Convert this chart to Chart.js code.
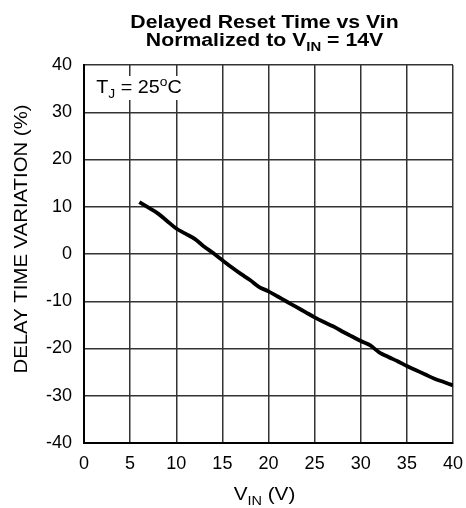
<!DOCTYPE html>
<html>
<head>
<meta charset="utf-8">
<script src="https://cdn.jsdelivr.net/npm/chart.js@4/dist/chart.umd.min.js"></script>
<style>
  html, body { margin: 0; padding: 0; background: #fff; }
  #wrap { width: 466px; height: 508px; position: relative; }
</style>
</head>
<body>
<div id="wrap"><canvas id="chart"></canvas></div>
<script>
// V_IN (V)
const vin = [6, 7, 8, 9, 10, 11, 12, 13, 14, 15, 16, 17, 18, 19, 20, 21, 22, 23, 24, 25, 26, 27, 28, 29, 30, 31, 32, 33, 34, 35, 36, 37, 38, 39, 40];
// delay time variation (%)
const variation = [11, 9.8, 8.6, 7, 5.4, 4.3, 3.2, 1.6, 0.2, -1.3, -2.8, -4.2, -5.5, -7, -7.9, -9, -10.1, -11.2, -12.3, -13.4, -14.4, -15.3, -16.4, -17.4, -18.4, -19.3, -20.8, -21.8, -22.7, -23.7, -24.6, -25.5, -26.4, -27.1, -27.8];

const xTicks = [0, 5, 10, 15, 20, 25, 30, 35, 40];
const yTicks = [-40, -30, -20, -10, 0, 10, 20, 30, 40];

const FONT = 'Liberation Sans, Arial, sans-serif';

// draw text pieces (with sub/superscripts), centered on cx, stretched horizontally by sx
function richText(ctx, parts, cx, y, size, bold, sx) {
  const w = bold ? 'bold ' : '';
  let total = 0;
  parts.forEach(p => {
    ctx.font = w + (p.s ? size * 0.7 : size) + 'px ' + FONT;
    total += ctx.measureText(p.t).width;
  });
  ctx.save();
  ctx.translate(cx, y);
  ctx.scale(sx, 1);
  let x = -total / 2;
  parts.forEach(p => {
    ctx.font = w + (p.s ? size * 0.7 : size) + 'px ' + FONT;
    let dy = 0;
    if (p.s === 'sub') dy = size * 0.25;
    if (p.s === 'sup') dy = -size * 0.4;
    ctx.fillText(p.t, x, dy);
    x += ctx.measureText(p.t).width;
  });
  ctx.restore();
}

const labelsPlugin = {
  id: 'labels',
  afterDraw(chart) {
    const ctx = chart.ctx;
    const a = chart.chartArea;
    ctx.save();
    ctx.fillStyle = '#000';
    ctx.textAlign = 'left';
    ctx.textBaseline = 'alphabetic';
    const cx = (a.left + a.right) / 2 - 4;
    richText(ctx, [{t: 'Delayed Reset Time vs Vin'}], cx, 28, 18, true, 1.18);
    richText(ctx, [{t: 'Normalized to V'}, {t: 'IN', s: 'sub'}, {t: ' = 14V'}], cx, 46, 18, true, 1.18);
    richText(ctx, [{t: 'V'}, {t: 'IN', s: 'sub'}, {t: ' (V)'}], cx, 500, 18, false, 1.15);

    // T_J annotation on a white box
    ctx.fillStyle = '#fff';
    ctx.fillRect(a.left + 6, 76, 98, 24);
    ctx.fillStyle = '#000';
    richText(ctx, [{t: 'T'}, {t: 'J', s: 'sub'}, {t: ' = 25'}, {t: 'o', s: 'sup'}, {t: 'C'}], a.left + 55, 93, 18, false, 1.1);

    // y axis title
    ctx.translate(27, 239);
    ctx.rotate(-Math.PI / 2);
    richText(ctx, [{t: 'DELAY TIME VARIATION (%)'}], 0, 0, 18, false, 1.13);
    ctx.restore();
  }
};

new Chart(document.getElementById('chart'), {
  type: 'line',
  data: {
    datasets: [{
      data: vin.map((v, i) => ({x: v, y: variation[i]})),
      borderColor: '#000',
      borderWidth: 3.8,
      pointRadius: 0,
      tension: 0.3,
      fill: false
    }]
  },
  options: {
    responsive: true,
    maintainAspectRatio: false,
    animation: false,
    devicePixelRatio: 1,
    layout: { padding: { top: 65, right: 13, left: 0, bottom: 0 } },
    plugins: { legend: { display: false }, tooltip: { enabled: false } },
    scales: {
      x: {
        type: 'linear',
        min: 0, max: 40,
        afterBuildTicks: s => { s.ticks = xTicks.map(v => ({value: v})); },
        afterFit: s => { s.height = 65; s.paddingLeft = 0; s.paddingRight = 0; },
        grid: { color: '#333', lineWidth: 1.5, drawTicks: false },
        border: { color: '#000', width: 2 },
        ticks: { color: '#000', font: { family: FONT, size: 18 }, padding: 10, maxRotation: 0 }
      },
      y: {
        min: -40, max: 40,
        afterBuildTicks: s => { s.ticks = yTicks.map(v => ({value: v})); },
        afterFit: s => { s.width = 84; s.paddingTop = 0; s.paddingBottom = 0; },
        grid: { color: '#333', lineWidth: 1.5, drawTicks: false },
        border: { color: '#000', width: 2 },
        ticks: { color: '#000', font: { family: FONT, size: 18 }, padding: 12 }
      }
    }
  },
  plugins: [labelsPlugin]
});
</script>
</body>
</html>
